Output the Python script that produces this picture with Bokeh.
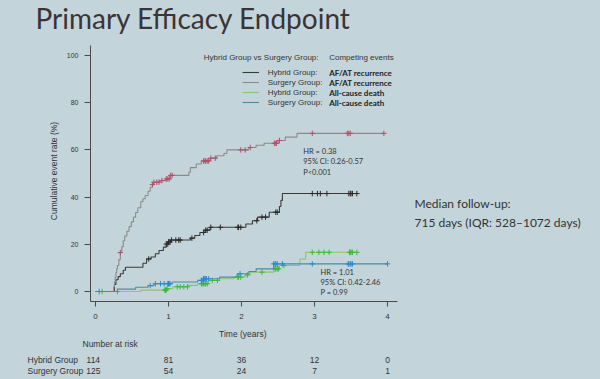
import numpy as np
from bokeh.plotting import figure
from bokeh.layouts import column
from bokeh.models import Range1d, FixedTicker, Label, Legend, LegendItem
from bokeh.core.properties import value
from bokeh.embed import file_html
from bokeh.resources import INLINE

# ---------------- data ----------------
x_ticks = [0, 1, 2, 3, 4]
y_ticks = [0, 20, 40, 60, 80, 100]

# Hybrid Group: AF/AT recurrence (cumulative %)
hyb_af_t = [0, 0.26, 0.28, 0.31, 0.34, 0.38, 0.41, 0.65, 0.70, 0.76, 0.82, 0.87, 0.93, 0.97, 1.00,
            1.03, 1.30, 1.36, 1.43, 1.50, 1.57, 2.06, 2.15, 2.22, 2.38, 2.52, 2.54, 2.56, 3.58]
hyb_af_v = [0, 3.0, 5.0, 6.3, 7.5, 9.0, 10.3, 12.0, 13.8, 14.6, 16.0, 17.4, 18.8, 20.1, 21.0,
            21.8, 22.6, 23.7, 25.0, 26.0, 27.2, 28.6, 30.0, 31.5, 33.6, 36.0, 38.6, 41.5, 41.5]
hyb_af_cens = [0.73, 0.97, 0.99, 1.00, 1.02, 1.04, 1.10, 1.14, 1.16, 1.32, 1.48, 1.51, 1.53, 1.58,
               1.71, 1.95, 1.96, 1.99, 2.21, 2.28, 2.33, 2.47, 2.49, 2.97, 3.04, 3.08, 3.17, 3.47,
               3.49, 3.50, 3.52, 3.58]

# Surgery Group: AF/AT recurrence
surg_af_t = [0, 0.25, 0.26, 0.27, 0.28, 0.29, 0.30, 0.32, 0.34, 0.36, 0.38, 0.40, 0.43, 0.46, 0.49,
             0.52, 0.55, 0.58, 0.62, 0.65, 0.68, 0.72, 0.75, 0.78, 0.80, 0.88, 0.96, 1.02, 1.28,
             1.30, 1.38, 1.45, 1.57, 1.66, 1.76, 1.80, 2.10, 2.20, 2.31, 2.50, 2.60, 2.76, 3.95]
surg_af_v = [0, 2.0, 4.0, 6.0, 8.0, 9.5, 11.0, 13.5, 16.5, 19.0, 21.5, 23.5, 25.5, 27.5, 29.5,
             31.5, 33.5, 35.5, 38.0, 39.3, 40.7, 42.5, 44.2, 45.3, 46.3, 47.0, 47.7, 49.2, 50.6,
             52.5, 54.0, 55.3, 56.5, 57.5, 58.5, 60.0, 61.0, 62.0, 62.8, 64.0, 65.4, 67.0, 67.0]
surg_af_cens = [0.34, 0.78, 0.80, 0.84, 0.87, 0.91, 0.97, 0.99, 1.01, 1.03, 1.05, 1.48, 1.50, 1.51,
                1.53, 1.55, 1.58, 1.64, 1.99, 2.05, 2.12, 2.45, 2.47, 2.48, 2.52, 2.97, 3.45, 3.47,
                3.49, 3.95]

# Hybrid Group: all-cause death
hyb_d_t = [0, 0.62, 0.98, 1.06, 1.27, 1.40, 1.55, 1.70, 1.90, 2.05, 2.12, 2.44, 2.52, 2.80, 2.88, 3.58]
hyb_d_v = [0, 0.6, 1.2, 2.0, 2.6, 3.3, 4.7, 5.4, 6.1, 7.0, 8.2, 9.6, 11.0, 13.8, 16.6, 16.6]
hyb_d_cens = [0.09, 0.30, 0.95, 0.96, 0.97, 0.98, 1.12, 1.16, 1.21, 1.26, 1.45, 1.46, 1.48, 1.50,
              1.51, 1.53, 1.60, 1.67, 1.95, 1.96, 1.99, 2.08, 2.28, 2.46, 2.47, 2.49, 2.51, 2.58,
              2.97, 3.06, 3.13, 3.20, 3.48, 3.49, 3.50, 3.52, 3.58]

# Surgery Group: all-cause death
surg_d_t = [0, 0.30, 0.55, 0.72, 0.80, 1.05, 1.40, 1.48, 1.70, 1.94, 2.10, 2.20, 2.44, 4.00]
surg_d_v = [0, 1.0, 1.8, 2.5, 3.3, 4.0, 4.7, 5.4, 6.1, 7.5, 8.5, 9.6, 11.7, 11.7]
surg_d_cens = [0.05, 0.75, 0.82, 0.89, 0.94, 0.99, 1.00, 1.01, 1.02, 1.45, 1.46, 1.48, 1.49, 1.51,
               1.52, 1.55, 1.98, 2.44, 2.46, 2.47, 2.49, 2.56, 2.97, 3.46, 3.47, 3.49, 3.50, 3.52, 4.00]

risk_times = [0, 1, 2, 3, 4]
risk_hybrid = [114, 81, 36, 12, 0]
risk_surgery = [125, 54, 24, 7, 1]

# ---------------- layout helpers (page pixels -> data units) ----------------
BG = "#c3d5db"
TXT = "#333333"
W = 600
TOP_H = 40                # title strip
MAIN_BOTTOM = 326         # page y where the main chart panel ends
FL, FB = 90, 301          # frame left / bottom of the main chart (page px)
AX_RIGHT, AX_TOP = 397, 45  # extent of the drawn axis lines
X0PX, XPPU = 95.0, 73.0
Y0PX, YPPU = 291.0, 2.36


def dx(px):
    return (px - X0PX) / XPPU


def dy(py):
    return (Y0PX - py) / YPPU


def ident(v):
    return v


def no_align(fig):
    if "frame_align" in fig.properties():
        fig.frame_align = False


def style_bg(fig):
    fig.background_fill_color = BG
    fig.border_fill_color = BG
    fig.outline_line_color = None
    fig.grid.visible = False


def lab(fig, cx, cy, text, px, py, size, font="Liberation Sans", align="left", style="normal",
        color=TXT):
    fig.add_layout(Label(x=cx(px), y=cy(py), text=text, text_font=font, text_font_size=size,
                         text_align=align, text_baseline="middle", text_font_style=style,
                         text_color=color))


# ---------------- title strip ----------------
t = figure(width=W, height=TOP_H, output_backend="svg", toolbar_location=None,
           x_range=Range1d(0, W), y_range=Range1d(TOP_H, 0),
           x_axis_location=None, y_axis_location=None,
           min_border_left=0, min_border_right=0, min_border_top=0, min_border_bottom=0)
style_bg(t)
no_align(t)
lab(t, ident, ident, "Primary Efficacy Endpoint", 35, 17, "28px", font="Lato", color="#3b3436")

# ---------------- main chart ----------------
H_MAIN = MAIN_BOTTOM - TOP_H
p = figure(width=W, height=H_MAIN, output_backend="svg", toolbar_location=None,
           x_range=Range1d(dx(FL), dx(W)), y_range=Range1d(dy(FB), dy(TOP_H)),
           min_border_left=FL, min_border_right=0, min_border_top=0,
           min_border_bottom=MAIN_BOTTOM - FB)
style_bg(p)
no_align(p)

for ax in (p.xaxis[0], p.yaxis[0]):
    ax.axis_line_color = "#4a4a4a"
    ax.major_tick_line_color = "#4a4a4a"
    ax.minor_tick_line_color = None
    ax.major_tick_in = 0
    ax.major_label_text_font = "Liberation Sans"
    ax.major_label_text_color = TXT
    ax.axis_label_text_font = "Liberation Sans"
    ax.axis_label_text_font_style = "normal"
    ax.axis_label_text_color = TXT

p.xaxis.ticker = FixedTicker(ticks=x_ticks)
p.yaxis.ticker = FixedTicker(ticks=y_ticks)
p.xaxis.bounds = (dx(FL), dx(AX_RIGHT))
p.yaxis.bounds = (dy(FB), dy(AX_TOP))
p.xaxis.major_tick_out = 5
p.yaxis.major_tick_out = 6
p.xaxis.major_label_text_font_size = "8px"
p.yaxis.major_label_text_font_size = "7px"
p.xaxis.major_label_standoff = 7
p.yaxis.major_label_standoff = 6
p.yaxis.axis_label = "Cumulative event rate (%)"
p.yaxis.axis_label_text_font_size = "8.5px"
p.yaxis.axis_label_standoff = 5

series = [
    ("Hybrid Group:", "AF/AT recurrence", hyb_af_t, hyb_af_v, hyb_af_cens, "#3a3a3a", "#2a2a2a"),
    ("Surgery Group:", "AF/AT recurrence", surg_af_t, surg_af_v, surg_af_cens, "#8a8a8a", "#b0506a"),
    ("Hybrid Group:", "All-cause death", hyb_d_t, hyb_d_v, hyb_d_cens, "#86c86a", "#3cb83c"),
    ("Surgery Group:", "All-cause death", surg_d_t, surg_d_v, surg_d_cens, "#4f8aa2", "#2b8ccc"),
]

items = []
for name, ev, tt, v, cens, lc, cc in series:
    r = p.step(tt, v, mode="after", line_color=lc, line_width=1.1)
    ta = np.array(tt)
    va = np.array(v)
    idx = np.searchsorted(ta, np.array(cens), side="right") - 1
    p.scatter(cens, va[idx], marker="cross", size=5.5, line_color=cc, line_width=1)
    items.append(LegendItem(label=name, renderers=[r]))

ROW0, ROWH = 72.3, 10.0
legend = Legend(items=items, location=(241.7 - FL, FB - (ROW0 - ROWH / 2 + ROWH * 4)),
                glyph_width=17, glyph_height=int(ROWH), label_height=int(ROWH), label_standoff=9,
                spacing=0, padding=0, margin=0, border_line_color=None,
                background_fill_alpha=0, label_text_font="Liberation Sans",
                label_text_font_size="8px", label_text_color=TXT)
p.add_layout(legend)

# legend header and event names
lab(p, dx, dy, "Hybrid Group vs Surgery Group:", 203.3, 57.3, "8px")
lab(p, dx, dy, "Competing events", 328.7, 57.3, "8px")
for i, s in enumerate(series):
    lab(p, dx, dy, s[1], 328.7, ROW0 + ROWH * i, "8px", font="Lato", style="bold", color="#222222")

# HR annotations
for i, s in enumerate(["HR = 0.38", "95% CI: 0.26-0.57", "P<0.001"]):
    lab(p, dx, dy, s, 302.7, 150.7 + 10.5 * i, "7.5px", font="Lato")
for i, s in enumerate(["HR = 1.01", "95% CI: 0.42-2.46", "P = 0.99"]):
    lab(p, dx, dy, s, 320, 271.7 + 10.3 * i, "7.5px", font="Lato")

# median follow-up
lab(p, dx, dy, "Median follow-up:", 414, 203.3, "12px", font="Lato")
lab(p, dx, dy, "715 days (IQR: 528\u20131072 days)", 414, 221.7, "12px", font="Lato")

# ---------------- x-axis title + number at risk table ----------------
H_RISK = 379 - MAIN_BOTTOM
q = figure(width=W, height=H_RISK, output_backend="svg", toolbar_location=None,
           x_range=Range1d(dx(0), dx(W)), y_range=Range1d(379, MAIN_BOTTOM),
           x_axis_location=None, y_axis_location=None,
           min_border_left=0, min_border_right=0, min_border_top=0, min_border_bottom=0)
style_bg(q)
no_align(q)

lab(q, dx, ident, "Time (years)", 242.3, 333.3, "8.5px", align="center")
ROW_H, ROW_S = 359.5, 370.0
lab(q, dx, ident, "Number at risk", 82, 343.5, "8.5px")
lab(q, dx, ident, "Hybrid Group", 27, ROW_H, "8.5px")
lab(q, dx, ident, "Surgery Group", 27, ROW_S, "8.5px")
risk_x = [tm - 0.03 if tm == 0 else tm for tm in risk_times]
q.text(x=risk_x, y=[ROW_H] * len(risk_x), text=[str(n) for n in risk_hybrid],
       text_font=value("Liberation Sans"), text_font_size="8.5px", text_align="center",
       text_baseline="middle", text_color=TXT)
q.text(x=risk_x, y=[ROW_S] * len(risk_x), text=[str(n) for n in risk_surgery],
       text_font=value("Liberation Sans"), text_font_size="8.5px", text_align="center",
       text_baseline="middle", text_color=TXT)

layout = column(t, p, q, spacing=0)
html = file_html(layout, INLINE)
html = html.replace("</head>",
                    "<style>html, body { background: %s; }</style></head>" % BG, 1)
open("out.html", "w").write(html)
